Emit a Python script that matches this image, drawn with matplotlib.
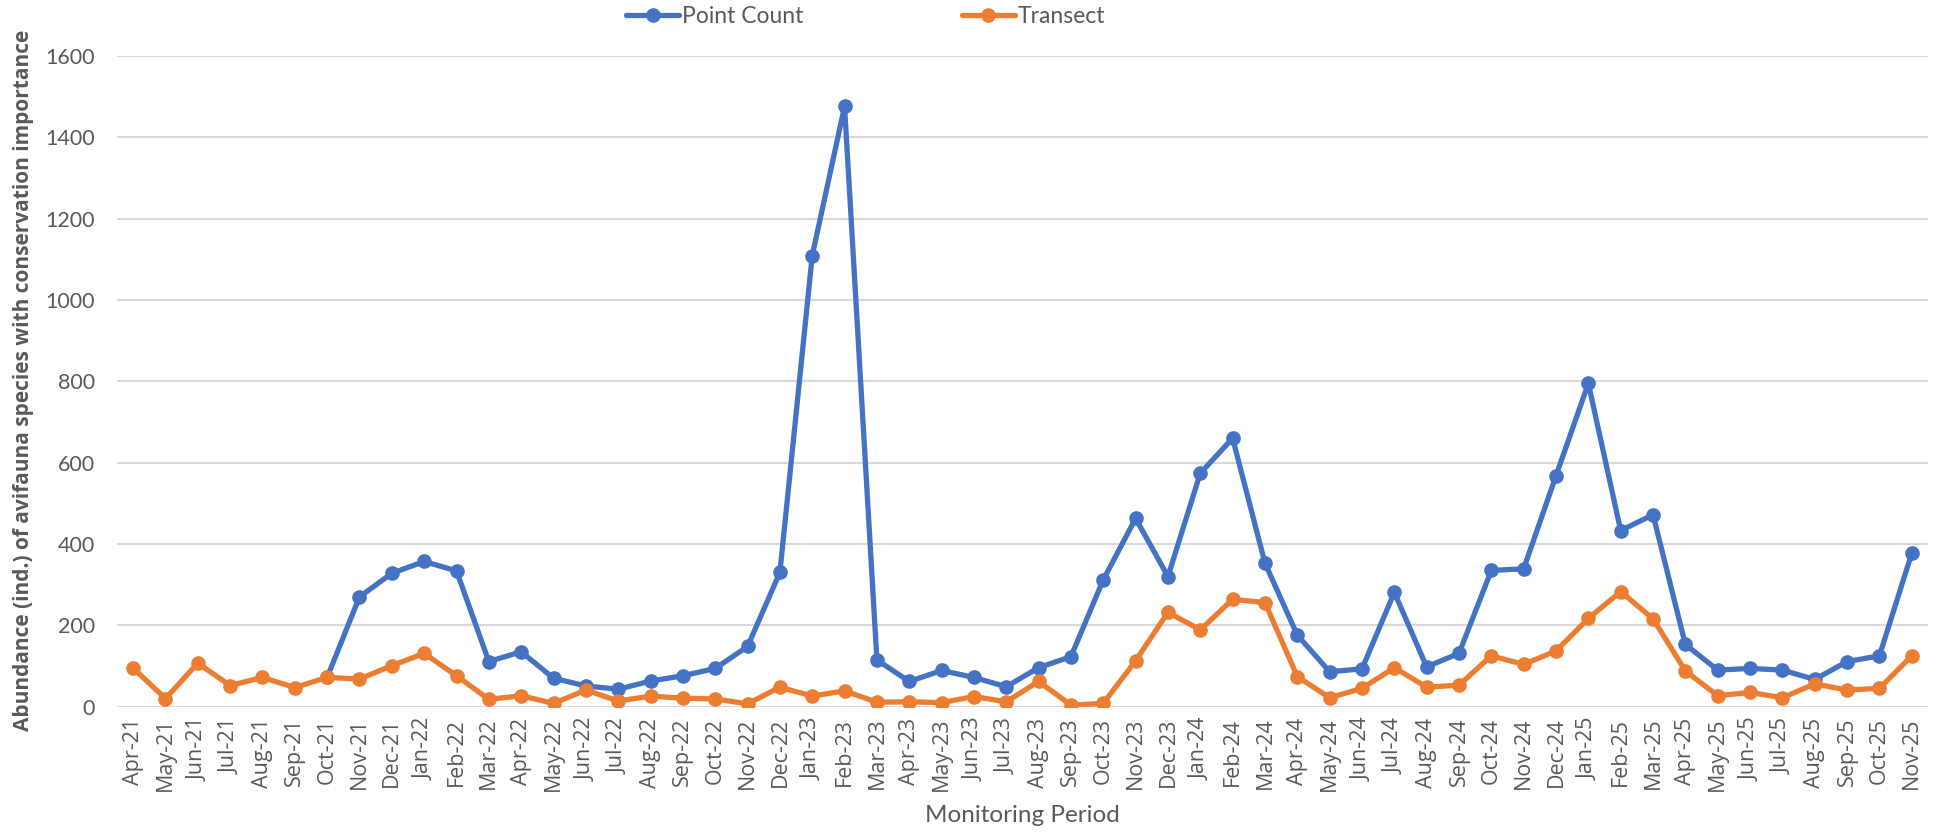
import numpy as np
import matplotlib
matplotlib.use("Agg")
import matplotlib.pyplot as plt

months = [
    "Apr-21", "May-21", "Jun-21", "Jul-21", "Aug-21", "Sep-21", "Oct-21", "Nov-21", "Dec-21",
    "Jan-22", "Feb-22", "Mar-22", "Apr-22", "May-22", "Jun-22", "Jul-22", "Aug-22", "Sep-22",
    "Oct-22", "Nov-22", "Dec-22", "Jan-23", "Feb-23", "Mar-23", "Apr-23", "May-23", "Jun-23",
    "Jul-23", "Aug-23", "Sep-23", "Oct-23", "Nov-23", "Dec-23", "Jan-24", "Feb-24", "Mar-24",
    "Apr-24", "May-24", "Jun-24", "Jul-24", "Aug-24", "Sep-24", "Oct-24", "Nov-24", "Dec-24",
    "Jan-25", "Feb-25", "Mar-25", "Apr-25", "May-25", "Jun-25", "Jul-25", "Aug-25", "Sep-25",
    "Oct-25", "Nov-25",
]

# point count survey only starts in Oct-21
point_count = [
    None, None, None, None, None, None, 72, 270, 328,
    357, 334, 111, 135, 70, 51, 43, 63, 76,
    94, 148, 330, 1109, 1476, 115, 62, 89, 72,
    49, 96, 123, 312, 463, 320, 574, 660, 353,
    176, 86, 93, 281, 98, 131, 335, 339, 568,
    795, 433, 472, 153, 90, 94, 90, 67, 111,
    125, 377,
]

transect = [
    95, 20, 107, 52, 72, 47, 72, 68, 101,
    131, 76, 18, 27, 8, 41, 14, 26, 21,
    19, 7, 48, 26, 39, 11, 12, 10, 25,
    12, 62, 4, 8, 113, 232, 189, 264, 256,
    74, 22, 45, 96, 48, 53, 125, 104, 137,
    217, 283, 216, 88, 27, 35, 22, 56, 41,
    45, 125,
]

BLUE = "#4472C4"
ORANGE = "#ED7D31"
GREY_TXT = "#595959"
CAL = ["Lato", "DejaVu Sans"]

x = np.arange(len(months))
pc = np.array([np.nan if v is None else v for v in point_count], dtype=float)
tr = np.array(transect, dtype=float)

fig = plt.figure(figsize=(19.46, 8.39), dpi=100)
ax = fig.add_axes([0.0601, 0.1577, 0.9306, 0.7756])

line_kw = dict(linewidth=3.8, marker="o", markersize=9.5, solid_capstyle="round")
ax.plot(x, pc, color=BLUE, label="Point Count", zorder=3, **line_kw)
ax.plot(x, tr, color=ORANGE, label="Transect", zorder=4, **line_kw)

ax.set_xlim(-0.5, len(months) - 0.5)
ax.set_ylim(0, 1600)
ax.set_yticks(np.arange(0, 1601, 200))
ax.grid(axis="y", color="#D9D9D9", linewidth=1.5)
ax.set_axisbelow(True)
for s in ax.spines.values():
    s.set_visible(False)
ax.tick_params(length=0)

ax.set_xticks(x)
ax.set_xticklabels(months, rotation=90, fontsize=15.5, family="Open Sans", color=GREY_TXT)
for lab in ax.get_yticklabels():
    lab.set_fontfamily(CAL)
    lab.set_fontsize(15.5)
    lab.set_color(GREY_TXT)
ax.tick_params(axis="y", pad=16)
ax.tick_params(axis="x", pad=8)

ax.set_xlabel("Monitoring Period", fontsize=17.5, family=CAL, color=GREY_TXT, labelpad=10)
fig.text(0.0123, 0.547, "Abundance (ind.) of avifauna species with conservation importance",
         rotation=90, ha="center", va="center", fontsize=15, family="Open Sans",
         fontweight="bold", color=GREY_TXT)

leg = fig.legend(loc="center", bbox_to_anchor=(0.445, 0.98), ncol=2, frameon=False,
                 prop={"family": CAL, "size": 16.5}, columnspacing=6.9, handlelength=2.3,
                 handletextpad=0.15)
for t in leg.get_texts():
    t.set_color(GREY_TXT)

fig.savefig("out.png", dpi=100)
